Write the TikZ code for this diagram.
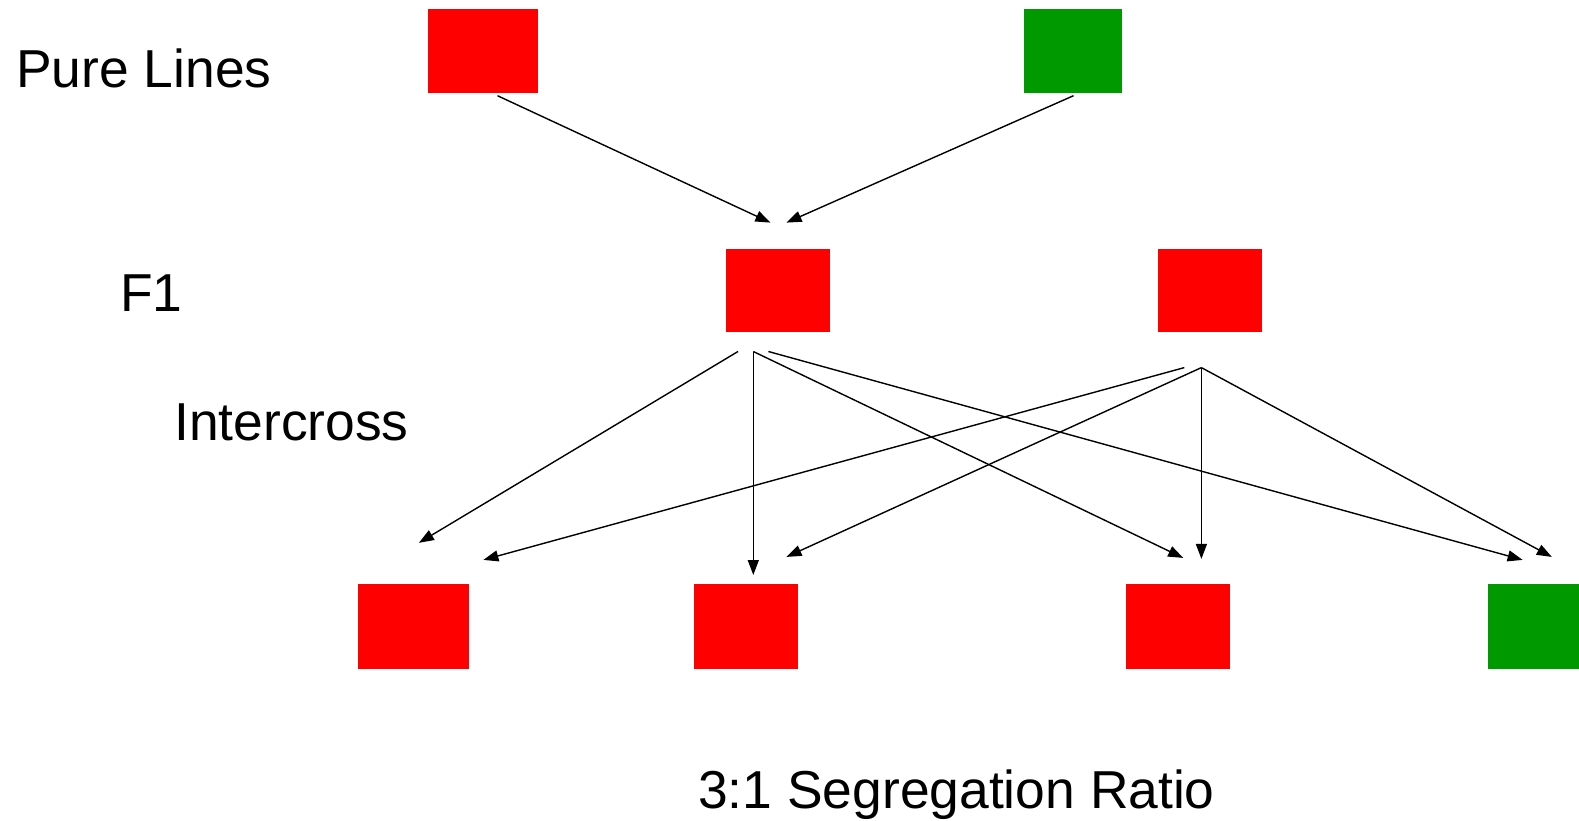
\documentclass[tikz,border=0pt]{standalone}
\usepackage{fontspec}
\setmainfont{Liberation Sans}
\usetikzlibrary{arrows.meta}
\definecolor{plantred}{RGB}{255,0,0}
\definecolor{plantgreen}{RGB}{0,153,0}
\tikzset{
  plant/.style={rectangle, inner sep=0pt, minimum height=84pt},
  redplant/.style={plant, fill=plantred},
  greenplant/.style={plant, fill=plantgreen},
  label/.style={anchor=base west, inner sep=0pt, font=\fontsize{53.4}{60}\selectfont},
  cross/.style={draw=black, line width=1.4pt, -{Triangle[length=15pt,width=11pt]}}
}
\begin{document}
\begin{tikzpicture}[x=1pt,y=-1pt]
\useasboundingbox[fill=white] (0,0) rectangle (1579,820);

% generation labels
\node[label] (lpure) at (16,87) {Pure Lines};
\node[label] (lf1) at (120,311) {F1};
\node[label] (linter) at (174,440) {Intercross};
\node[label] (lratio) at (698,808) {3:1 Segregation Ratio};

% parents
\node[redplant, minimum width=110pt] (p1) at (483,51) {};
\node[greenplant, minimum width=98pt] (p2) at (1073,51) {};

% F1 generation
\node[redplant, minimum width=104pt, minimum height=83pt] (f1) at (778,290.5) {};
\node[redplant, minimum width=104pt, minimum height=83pt] (f2) at (1210,290.5) {};

% F2 generation
\node[redplant, minimum width=111pt, minimum height=85pt] (g1) at (413.5,626.5) {};
\node[redplant, minimum width=104pt, minimum height=85pt] (g2) at (746,626.5) {};
\node[redplant, minimum width=104pt, minimum height=85pt] (g3) at (1178,626.5) {};
\node[greenplant, minimum width=91pt, minimum height=85pt] (g4) at (1533.5,626.5) {};

% connector end points
\coordinate (p1s) at (497.5,95.7);
\coordinate (p2s) at (1073.5,95.7);
\coordinate (f1in) at (770.4,222.6);
\coordinate (f1in2) at (786.5,222.6);

\coordinate (f1a) at (738,351.5);
\coordinate (f1b) at (753.3,351.5);
\coordinate (f1c) at (768.4,351.5);
\coordinate (f2a) at (1184.3,367.6);
\coordinate (f2b) at (1201.4,367.6);

\coordinate (g1a) at (418.9,542.8);
\coordinate (g1b) at (483.4,559.9);
\coordinate (g2a) at (753.3,575);
\coordinate (g2b) at (786.5,556.9);
\coordinate (g3a) at (1183.2,557.9);
\coordinate (g3b) at (1201.4,558.9);
\coordinate (g4a) at (1522.6,559.9);
\coordinate (g4b) at (1551.8,556.9);

% crosses
\draw[cross] (p1s) -- (f1in);
\draw[cross] (p2s) -- (f1in2);

\draw[cross] (f1a) -- (g1a);
\draw[cross] (f1b) -- (g2a);
\draw[cross] (f1b) -- (g3a);
\draw[cross] (f1c) -- (g4a);
\draw[cross] (f2a) -- (g1b);
\draw[cross] (f2b) -- (g2b);
\draw[cross] (f2b) -- (g3b);
\draw[cross] (f2b) -- (g4b);
\end{tikzpicture}
\end{document}
